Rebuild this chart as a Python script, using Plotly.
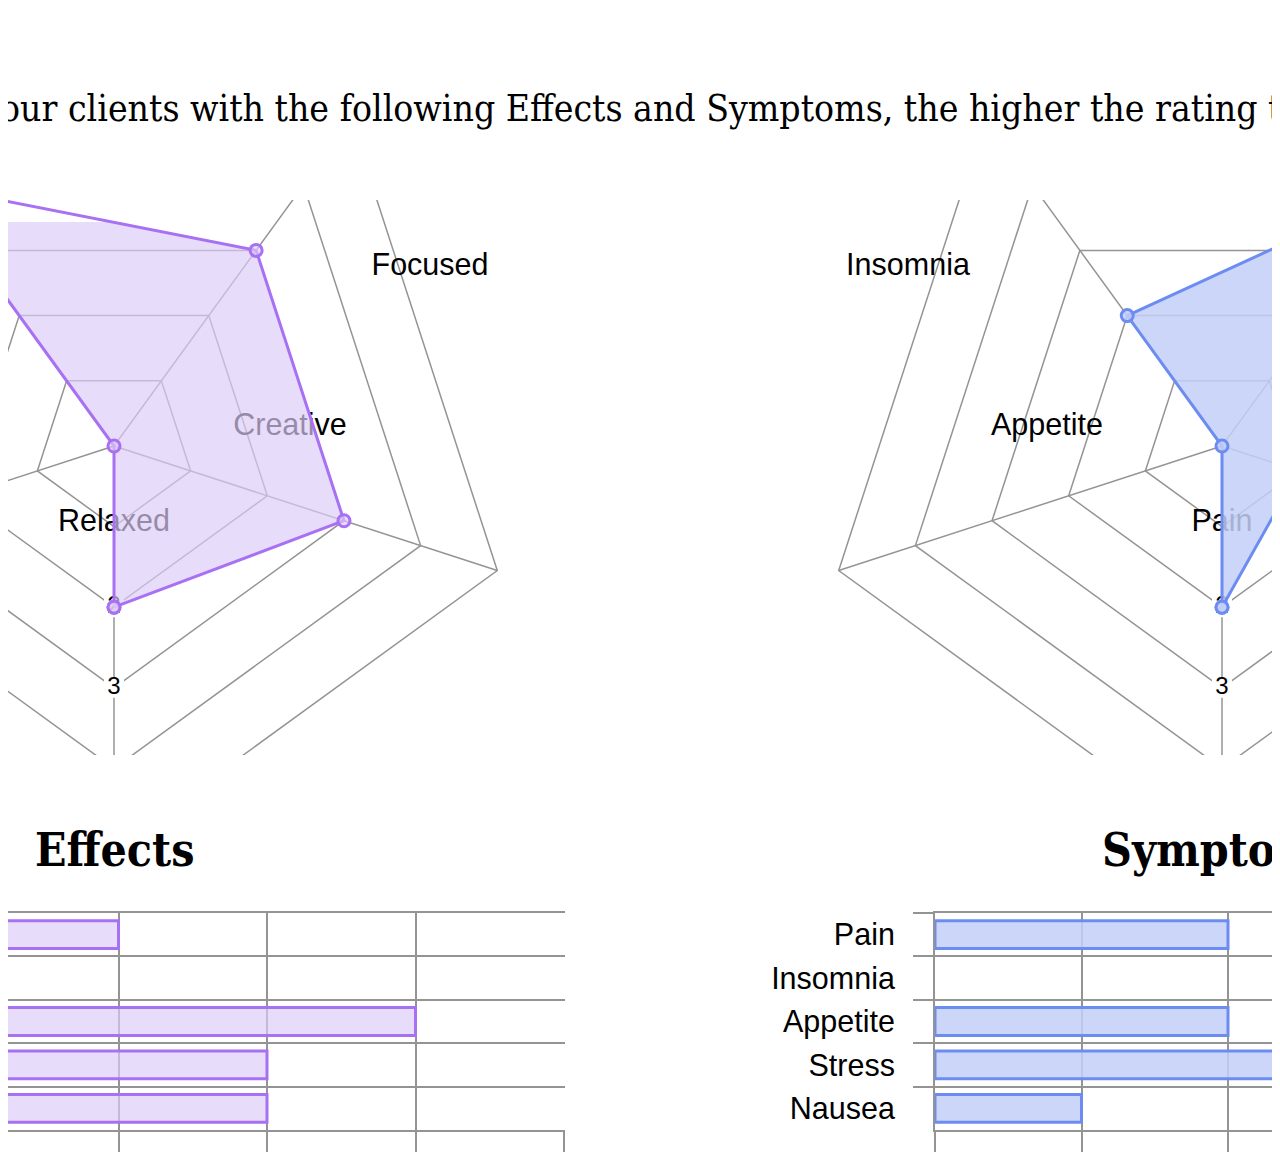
import numpy as np
import plotly.graph_objects as go

# ---------------- data ----------------
effects_labels = ["Relaxed", "Happy", "Euphoric", "Creative", "Focused"]
effects_values = [2, 0, 4, 3, 3]
symptoms_labels = ["Pain", "Insomnia", "Appetite", "Stress", "Nausea"]
symptoms_values = [2, 0, 2, 4, 1]
rating_ticks = [2, 3, 4, 5]
rating_max = 5
panel_titles = ["Effects", "Symptoms"]
intro_hidden = "Please rate how well this product works for y"
intro_text = "our clients with the following Effects and Symptoms, the higher the rating the better."

# ---------------- layout constants (page pixels) ----------------
PAGE_W, PAGE_H = 1280, 1176
BODY = 8                               # default page margin around the figure
W, H = PAGE_W - BODY, PAGE_H - 2 * BODY
PURPLE = "rgb(168,112,242)"
PURPLE_FILL = "rgba(220,203,246,0.68)"
BLUE = "rgb(108,140,242)"
BLUE_FILL = "rgba(195,207,247,0.85)"
GRID = "rgb(148,148,148)"
SANS = "Liberation Sans, Arial, sans-serif"
SLAB = "DejaVu Serif Condensed, DejaVu Serif, serif"

R_PX = 80.6                 # pixels per rating unit on radars
CY = 446                    # radar centre y
CENTERS = [114, 1222]       # radar centre x
CLIP_TOP, FILL_TOP, CLIP_BOT = 200, 222, 755
X_WIN = [(BODY, 600), (680, PAGE_W)]
LABEL_OFFSETS = [(0, 77), (-314, -179), (-175, -19), (176, -19), (316, -179)]

BAR_TOP, BAR_BOT = 913, 1130
EFF_ZERO_PX, EFF_SCALE, EFF_RIGHT = -178.5, 148.5, 565
SYM_ZERO_PX, SYM_SCALE = 935, 146.5

panels = [
    dict(labels=effects_labels, values=effects_values, line=PURPLE, fill=PURPLE_FILL),
    dict(labels=symptoms_labels, values=symptoms_values, line=BLUE, fill=BLUE_FILL),
]


def xp(p):
    return (p - BODY) / W


def yp(p):
    return 1 - (p - BODY) / H


fig = go.Figure()
lay = {}


def axes(n, xwin, ywin, xr, yr):
    lay[f"xaxis{n}"] = dict(domain=[xp(xwin[0]), xp(xwin[1])], range=xr, visible=False,
                            fixedrange=True, anchor=f"y{n}", automargin=False)
    lay[f"yaxis{n}"] = dict(domain=[yp(ywin[1]), yp(ywin[0])], range=yr, visible=False,
                            fixedrange=True, anchor=f"x{n}", automargin=False)


theta = np.deg2rad(-90 - 72 * np.arange(5))

for k, pnl in enumerate(panels):
    cx = CENTERS[k]
    x0, x1 = X_WIN[k]
    xr = [(x0 - cx) / R_PX, (x1 - cx) / R_PX]
    n1, n2, n3 = 3 * k + 1, 3 * k + 2, 3 * k + 3
    axes(n1, (x0, x1), (CLIP_TOP, CLIP_BOT), xr, [(CY - CLIP_BOT) / R_PX, (CY - CLIP_TOP) / R_PX])
    axes(n2, (x0, x1), (FILL_TOP, CLIP_BOT), xr, [(CY - CLIP_BOT) / R_PX, (CY - FILL_TOP) / R_PX])
    axes(n3, (x0, x1), (CLIP_TOP, CLIP_BOT), xr, [(CY - CLIP_BOT) / R_PX, (CY - CLIP_TOP) / R_PX])

    def ax(n):
        return dict(xaxis="x" if n == 1 else f"x{n}", yaxis="y" if n == 1 else f"y{n}")

    # grid: rings + spokes
    gx, gy = [], []
    for r in range(1, rating_max + 1):
        gx += list(r * np.cos(theta)) + [r * np.cos(theta[0]), None]
        gy += list(r * np.sin(theta)) + [r * np.sin(theta[0]), None]
    for t in theta:
        gx += [0, rating_max * np.cos(t), None]
        gy += [0, rating_max * np.sin(t), None]
    fig.add_trace(go.Scatter(x=gx, y=gy, mode="lines", line=dict(color=GRID, width=1.5),
                             hoverinfo="skip", showlegend=False, **ax(n1)))

    # radial tick labels along first spoke with white backdrop
    tr = np.array(rating_ticks, dtype=float)
    fig.add_trace(go.Scatter(x=tr * np.cos(theta[0]), y=tr * np.sin(theta[0]), mode="markers+text",
                             text=[str(t) for t in rating_ticks], textposition="middle center",
                             textfont=dict(family=SANS, size=24, color="black"),
                             marker=dict(symbol="square", size=20, color="white"),
                             hoverinfo="skip", showlegend=False, **ax(n1)))

    # point labels
    lx = [o[0] / R_PX for o in LABEL_OFFSETS]
    ly = [-o[1] / R_PX for o in LABEL_OFFSETS]
    fig.add_trace(go.Scatter(x=lx, y=ly, mode="text", text=pnl["labels"], textposition="middle center",
                             textfont=dict(family=SANS, size=30.5, color="black"),
                             hoverinfo="skip", showlegend=False, **ax(n1)))

    v = np.array(pnl["values"], dtype=float)
    px_ = list(v * np.cos(theta)) + [v[0] * np.cos(theta[0])]
    py_ = list(v * np.sin(theta)) + [v[0] * np.sin(theta[0])]
    fig.add_trace(go.Scatter(x=px_, y=py_, mode="lines", fill="toself", fillcolor=pnl["fill"],
                             line=dict(width=0), hoverinfo="skip", showlegend=False, **ax(n2)))
    fig.add_trace(go.Scatter(x=px_, y=py_, mode="lines+markers",
                             line=dict(color=pnl["line"], width=3),
                             marker=dict(size=12, color=pnl["fill"], line=dict(color=pnl["line"], width=3)),
                             text=pnl["labels"] + [pnl["labels"][0]], hoverinfo="text+y",
                             showlegend=False, **ax(n3)))

# ---------------- bar charts ----------------
bar_axes = [
    dict(n=7, xwin=(BODY, EFF_RIGHT), xr=[(BODY - EFF_ZERO_PX) / EFF_SCALE, (EFF_RIGHT - EFF_ZERO_PX) / EFF_SCALE], yline=False),
    dict(n=8, xwin=(SYM_ZERO_PX, PAGE_W), xr=[0, (PAGE_W - SYM_ZERO_PX) / SYM_SCALE], yline=True),
]
for k, (pnl, b) in enumerate(zip(panels, bar_axes)):
    n = b["n"]
    lay[f"xaxis{n}"] = dict(domain=[xp(b["xwin"][0]), xp(b["xwin"][1])], range=b["xr"], anchor=f"y{n}",
                            showgrid=True, gridcolor=GRID, gridwidth=2, dtick=1, tick0=0,
                            ticks="outside", ticklen=20, tickcolor=GRID, tickwidth=2,
                            showticklabels=False, showline=True, mirror=True, linecolor=GRID,
                            linewidth=2, zeroline=False, fixedrange=True, automargin=False)
    lay[f"yaxis{n}"] = dict(domain=[yp(BAR_BOT), yp(BAR_TOP)], anchor=f"x{n}", type="category",
                            categoryorder="array", categoryarray=pnl["labels"],
                            range=[len(pnl["labels"]) - 0.5, -0.5], tickson="boundaries",
                            ticks="outside", ticklen=20, tickcolor=GRID, tickwidth=2,
                            showgrid=True, gridcolor=GRID, gridwidth=2,
                            tickfont=dict(family=SANS, size=30.5, color="black"),
                            ticklabelstandoff=32, automargin=False,
                            showline=b["yline"], linecolor=GRID, linewidth=2, fixedrange=True)
    fig.add_trace(go.Bar(orientation="h", x=pnl["values"], y=pnl["labels"],
                         xaxis=f"x{n}", yaxis=f"y{n}",
                         marker=dict(color=pnl["fill"],
                                     line=dict(color=pnl["line"], width=[3 if v else 0 for v in pnl["values"]])),
                         showlegend=False))

# ---------------- texts ----------------
annotations = [
    dict(text=intro_hidden, x=xp(-2), xanchor="right", y=yp(108), yanchor="middle",
         font=dict(family=SLAB, size=37, color="black")),
    dict(text=intro_text, x=xp(-2), xanchor="left", y=yp(108), yanchor="middle",
         font=dict(family=SLAB, size=37, color="black")),
]
for k, t in enumerate(panel_titles):
    annotations.append(dict(text=f"<b>{t}</b>", x=xp(CENTERS[k]), xanchor="center", y=yp(850),
                            yanchor="middle", font=dict(family=SLAB, size=46, color="black")))
for a in annotations:
    a.update(xref="paper", yref="paper", showarrow=False)

fig.update_layout(width=W, height=H, margin=dict(l=0, r=0, t=0, b=0, autoexpand=False),
                  paper_bgcolor="white", plot_bgcolor="rgba(0,0,0,0)",
                  bargap=0.36, annotations=annotations, **lay)

fig.write_html("out.html")
